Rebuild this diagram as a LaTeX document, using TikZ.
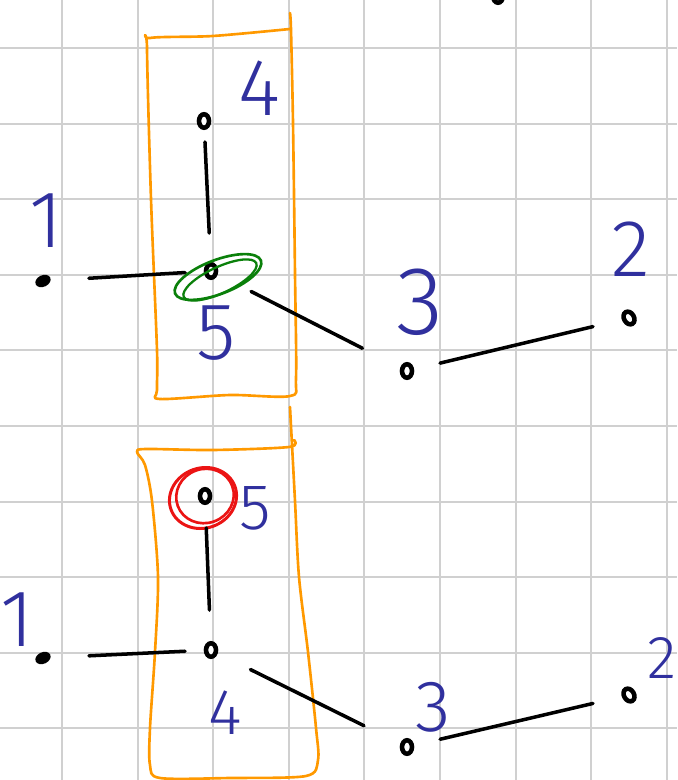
\documentclass[tikz,border=0pt]{standalone}
\usepackage{fontspec}
\usepackage{tikz}
\usetikzlibrary{shapes.geometric}
\newfontfamily\penfont{Fira Sans Light}
\definecolor{PenBlue}{RGB}{48,48,158}
\definecolor{PenOrange}{RGB}{255,153,0}
\definecolor{PenGreen}{RGB}{10,128,10}
\definecolor{PenRed}{RGB}{235,20,20}
\definecolor{GridGray}{RGB}{208,208,208}

\begin{document}
\begin{tikzpicture}[x=0.02cm, y=-0.02cm,
          gridline/.style={draw=GridGray, line width=1.1pt},
          ring/.style={ellipse, draw=black, fill=white, line width=2.6pt,
                       minimum width=0.2cm, minimum height=0.27cm, inner sep=0pt},
          blob/.style={ellipse, fill=black, minimum width=0.32cm,
                       minimum height=0.23cm, inner sep=0pt, rotate=25},
          link/.style={draw=black, line width=2pt, line cap=round},
          lab/.style={text=PenBlue, font=\penfont\fontsize{46}{46}\selectfont, inner sep=0pt},
          groupbox/.style={draw=PenOrange, line width=1.5pt, line cap=round, line join=round}
        ]
        \useasboundingbox (0,0) rectangle (677,780);
        \clip (0,0) rectangle (677,780);
        \fill[white] (0,0) rectangle (677,780);

        \foreach \k in {0,...,8}
          \draw[gridline] ({62+75.6*\k},0) -- ({62+75.6*\k},780);
        \foreach \k in {0,...,9}
          \draw[gridline] (0,{48+75.6*\k}) -- (677,{48+75.6*\k});

        % first picture
        \draw[groupbox] plot[smooth, tension=0.5] coordinates {(290,13) (291,30) (293,123)
              (295,274) (296,378) (290,396) (230,395) (160,399) (157,390) (157,350)
              (151,199) (147,48) (150,38) (213,36) (290,29)};

        \node[ring] (a0) at (498,-4) {};
        \node[ring] (a4) at (204,121) {};
        \node[ring] (a5) at (211,271) {};
        \node[blob] (a1) at (43,281) {};
        \node[ring] (a3) at (407,371) {};
        \node[ring, rotate=30] (a2) at (629,318) {};

        \draw[PenGreen, line width=1.5pt, rotate around={21:(218,277)}]
              (218,277) ellipse (46 and 17);
        \draw[PenGreen, line width=1.3pt, rotate around={25:(220,280)}]
              (220,280) ellipse (40 and 13);

        \draw[link, shorten <=0.42cm, shorten >=0.76cm] (a4.center) -- (a5.center);
        \draw[link, shorten <=0.92cm, shorten >=0.52cm] (a1.center) -- (a5.center);
        \draw[link, shorten <=0.9cm, shorten >=1cm] (a5.center) -- (a3.center);
        \draw[link, shorten <=0.68cm, shorten >=0.74cm] (a3.center) -- (a2.center);

        \node[lab] (l4a) at (259,88) {4};
        \node[lab] (l5a) at (216,333) {5};
        \node[lab] (l1a) at (46,221) {1};
        \node[lab, scale=1.2] (l3a) at (420,302) {3};
        \node[lab] (l2a) at (631,249) {2};

        % second picture
        \draw[groupbox] plot[smooth, tension=0.5] coordinates {(290,407) (291,426)
              (295,501) (299,577) (308,652) (316,728) (318,760) (306,776) (230,778)
              (160,778) (150,765) (150,728) (155,652) (158,577) (152,501) (145,465)
              (137,452) (146,449) (213,450) (289,447) (294,440)};

        \node[ring] (b5) at (205,496) {};
        \node[ring] (b4) at (211,650) {};
        \node[blob] (b1) at (43,658) {};
        \node[ring] (b3) at (407,747) {};
        \node[ring, rotate=30] (b2) at (629,695) {};

        \draw[PenRed, line width=1.7pt, rotate around={20:(203,498)}]
              (203,498) ellipse (34 and 30);
        \draw[PenRed, line width=1.5pt, rotate around={20:(205,496)}]
              (205,496) ellipse (29 and 27);

        \draw[link, shorten <=0.64cm, shorten >=0.8cm] (b5.center) -- (b4.center);
        \draw[link, shorten <=0.92cm, shorten >=0.52cm] (b1.center) -- (b4.center);
        \draw[link, shorten <=0.88cm, shorten >=0.96cm] (b4.center) -- (b3.center);
        \draw[link, shorten <=0.68cm, shorten >=0.74cm] (b3.center) -- (b2.center);

        \node[lab, scale=0.8] (l5b) at (255,508) {5};
        \node[lab, scale=0.8] (l4b) at (225,713) {4};
        \node[lab] (l1b) at (17,620) {1};
        \node[lab, scale=0.9] (l3b) at (433,707) {3};
        \node[lab, scale=0.75] (l2b) at (662,658) {2};
      \end{tikzpicture}
\end{document}
